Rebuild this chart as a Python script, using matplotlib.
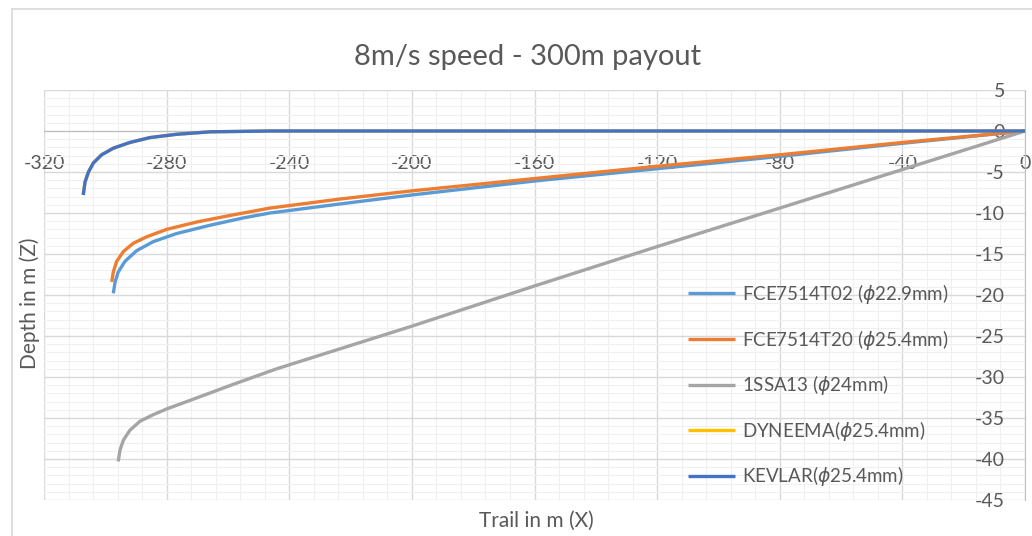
import matplotlib
matplotlib.use("Agg")
import matplotlib.pyplot as plt
from matplotlib.ticker import MultipleLocator
from matplotlib.lines import Line2D

plt.rcParams['font.family'] = ['Lato', 'DejaVu Sans']
plt.rcParams['axes.unicode_minus'] = False

# values (trail X, depth Z) in metres
x_t02 = [0, -40, -80, -120, -160, -200, -223.5, -246.3, -255.0, -265.9, -276.7, -284.4,
         -289.8, -293.6, -295.8, -296.8, -297.4]
z_t02 = [0, -1.5, -3.1, -4.6, -6.1, -7.8, -8.9, -10.0, -10.6, -11.5, -12.5, -13.5,
         -14.6, -15.9, -17.2, -18.4, -19.8]

x_t20 = [0, -40, -80, -120, -160, -200, -223.5, -246.3, -259.3, -270.2, -280.0, -286.5,
         -290.9, -294.1, -296.3, -297.4, -297.9]
z_t20 = [0, -1.4, -2.9, -4.3, -5.8, -7.3, -8.3, -9.4, -10.3, -11.1, -12.0, -12.9,
         -13.7, -14.7, -15.9, -17.2, -18.4]

x_ssa = [0, -40, -80, -120, -160, -200, -244.1, -258.3, -269.1, -280.0, -284.4, -288.7,
         -292.0, -294.1, -295.2, -295.8]
z_ssa = [0, -4.7, -9.4, -14.1, -18.9, -23.8, -29.0, -30.9, -32.4, -33.9, -34.6, -35.4,
         -36.5, -37.7, -38.9, -40.3]

x_dyn = [0, -100, -200, -246.3, -265.8, -276.7, -285.4, -292.0, -297.4, -301.2, -303.9,
         -305.5, -306.6, -307.2]
z_dyn = [0, 0, 0, 0, -0.1, -0.4, -0.8, -1.4, -2.1, -2.9, -3.9, -5.0, -6.2, -7.8]

x_kev = [0, -100, -200, -246.3, -265.8, -276.7, -285.4, -292.0, -297.4, -301.2, -303.9,
         -305.5, -306.6, -307.2]
z_kev = [0, 0, 0, 0, -0.1, -0.4, -0.8, -1.4, -2.1, -2.9, -3.9, -5.0, -6.2, -7.8]

labels = ['FCE7514T02 ($\\phi$22.9mm)', 'FCE7514T20 ($\\phi$25.4mm)', '1SSA13 ($\\phi$24mm)',
          'DYNEEMA($\\phi$25.4mm)', 'KEVLAR($\\phi$25.4mm)']
colors = ['#5B9BD5', '#ED7D31', '#A5A5A5', '#FFC000', '#4472C4']

W, H = 1032, 536
fig = plt.figure(figsize=(W / 100, H / 100), dpi=100)
ax = fig.add_axes([44 / W, 1 - 500 / H, (1025 - 44) / W, (500 - 90) / H])

series = [(x_t02, z_t02), (x_t20, z_t20), (x_ssa, z_ssa), (x_dyn, z_dyn), (x_kev, z_kev)]
for (xs, zs), lab, c in zip(series, labels, colors):
    ax.plot(xs, zs, color=c, lw=2.4, label=lab, solid_capstyle='butt',
            solid_joinstyle='round', zorder=3)

ax.set_xlim(-320, 0)
ax.set_ylim(-45, 5)
ax.xaxis.set_major_locator(MultipleLocator(40))
ax.xaxis.set_minor_locator(MultipleLocator(8))
ax.yaxis.set_major_locator(MultipleLocator(5))
ax.yaxis.set_minor_locator(MultipleLocator(1))
ax.grid(which='major', color='#D9D9D9', lw=1.0, zorder=0)
ax.grid(which='minor', color='#F0F0F0', lw=0.8, zorder=0)
ax.set_axisbelow(True)

for s in ['top', 'left']:
    ax.spines[s].set_visible(False)
ax.spines['bottom'].set_position(('data', 0))
ax.spines['bottom'].set_color('#BFBFBF')
ax.spines['right'].set_color('#BFBFBF')

ax.tick_params(axis='x', which='both', length=0, pad=17, labelsize=14, labelcolor='#595959')
ax.tick_params(axis='y', which='both', length=0, pad=-14.5, labelsize=14, labelcolor='#595959',
               labelright=True, labelleft=False)
for t in ax.get_yticklabels():
    t.set_horizontalalignment('right')

fig.text(528 / W, 1 - 57 / H, '8m/s speed - 300m payout', ha='center', va='center',
         fontsize=21, color='#595959')
fig.text(30 / W, 1 - 303 / H, 'Depth in m (Z)', ha='center', va='center', rotation=90,
         fontsize=15, color='#595959')
fig.text(536 / W, 1 - 521 / H, 'Trail in m (X)', ha='center', va='center',
         fontsize=15, color='#595959')

leg = ax.legend(loc='upper left', bbox_to_anchor=(688 / W, 1 - 282 / H), bbox_transform=fig.transFigure,
                frameon=False, fontsize=13.5, handlelength=2.5, handletextpad=0.4, labelspacing=1.15,
                borderpad=0, borderaxespad=0)
for t in leg.get_texts():
    t.set_color('#595959')

# chart area border
fig.add_artist(Line2D([12 / W, 1], [1 - 9 / H, 1 - 9 / H], color='#D9D9D9', lw=1.2, transform=fig.transFigure))
fig.add_artist(Line2D([12 / W, 12 / W], [0, 1 - 9 / H], color='#D9D9D9', lw=1.2, transform=fig.transFigure))

fig.savefig('out.png', dpi=100)
